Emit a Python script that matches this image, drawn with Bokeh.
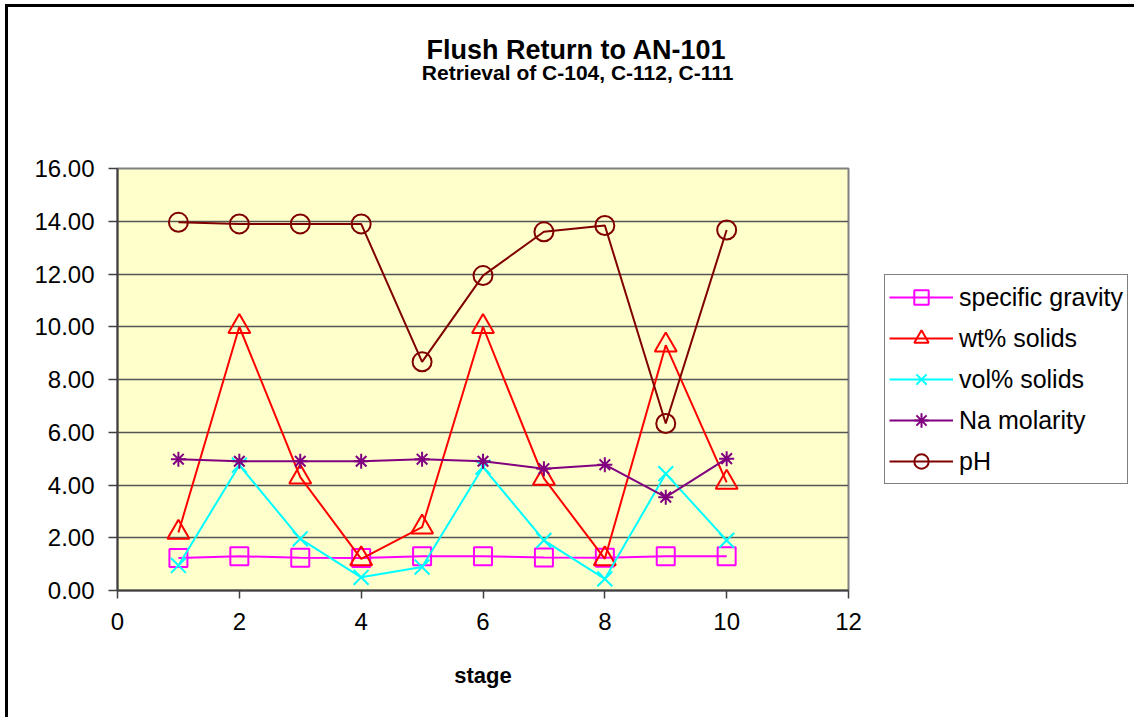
from bokeh.plotting import figure
from bokeh.layouts import row
from bokeh.models import (Range1d, FixedTicker, NumeralTickFormatter, Legend,
                          LegendItem, Title)
from bokeh.embed import file_html
from bokeh.resources import INLINE

# Flush return measurements per retrieval stage
stage = [1, 2, 3, 4, 5, 6, 7, 8, 9, 10]
specific_gravity = [1.23, 1.30, 1.24, 1.23, 1.30, 1.30, 1.25, 1.24, 1.30, 1.30]
wt_solids = [2.2, 10.0, 4.3, 1.2, 2.4, 10.0, 4.25, 1.2, 9.3, 4.1]
vol_solids = [0.95, 4.75, 1.96, 0.5, 0.89, 4.68, 1.9, 0.44, 4.43, 1.9]
na_molarity = [4.98, 4.9, 4.9, 4.9, 4.98, 4.9, 4.62, 4.77, 3.54, 5.0]
ph = [13.96, 13.9, 13.9, 13.9, 8.67, 11.94, 13.6, 13.84, 6.33, 13.67]

series_names = ["specific gravity", "wt% solids", "vol% solids", "Na molarity", "pH"]
series_values = [specific_gravity, wt_solids, vol_solids, na_molarity, ph]
series_colors = ["#FF00FF", "#FF0000", "#00FFFF", "#800080", "#800000"]
series_markers = ["square", "triangle", "x", "asterisk", "circle"]
marker_sizes = [18, 22, 21, 15, 19]

x_ticks = [0, 2, 4, 6, 8, 10, 12]
y_ticks = [0, 2, 4, 6, 8, 10, 12, 14, 16]

FONT = "Liberation Sans"
BORDERS = dict(min_border_top=161, min_border_bottom=127)

# ---- main chart -----------------------------------------------------------
p = figure(width=862, height=710, output_backend="svg", toolbar_location=None,
           x_range=Range1d(0, 12), y_range=Range1d(0, 16),
           min_border_left=109, min_border_right=22, **BORDERS)

p.background_fill_color = "#FFFFCC"
p.border_fill_color = "white"
p.outline_line_color = "#808080"
p.outline_line_width = 2

p.xgrid.visible = False
p.ygrid.grid_line_color = "#555555"
p.ygrid.grid_line_width = 1.5

p.xaxis.ticker = FixedTicker(ticks=x_ticks)
p.yaxis.ticker = FixedTicker(ticks=y_ticks)
p.yaxis.formatter = NumeralTickFormatter(format="0.00")
for ax in (p.xaxis, p.yaxis):
    ax.axis_line_color = "#404040"
    ax.axis_line_width = 2
    ax.major_tick_line_color = "#404040"
    ax.major_tick_line_width = 1.5
    ax.major_tick_in = 0
    ax.minor_tick_line_color = None
    ax.major_label_text_font = FONT
    ax.major_label_text_font_size = "24px"
    ax.major_label_text_color = "black"
p.xaxis.major_tick_out = 8
p.yaxis.major_tick_out = 9
p.xaxis.major_label_standoff = 14
p.yaxis.major_label_standoff = 14
p.xaxis.axis_label = "stage"
p.xaxis.axis_label_text_font = FONT
p.xaxis.axis_label_text_font_size = "22px"
p.xaxis.axis_label_text_font_style = "bold"
p.xaxis.axis_label_text_color = "black"
p.xaxis.axis_label_standoff = 30

for vals, color, marker, size in zip(series_values, series_colors,
                                     series_markers, marker_sizes):
    p.line(stage, vals, line_color=color, line_width=2)
    p.scatter(stage, vals, marker=marker, size=size, line_color=color,
              line_width=2, fill_color=None)

# heading block: a blank spacer lifts the two heading lines away from the frame
p.add_layout(Title(text=" ", text_font_size="1px", standoff=82), "above")
p.add_layout(Title(text="Retrieval of C-104, C-112, C-111", align="right",
                   offset=115, standoff=0, vertical_align="bottom",
                   text_font=FONT, text_font_size="21px",
                   text_font_style="bold", text_color="black"), "above")
p.add_layout(Title(text="Flush Return to AN-101", align="right",
                   offset=122, standoff=-13, vertical_align="bottom",
                   text_font=FONT, text_font_size="27px",
                   text_font_style="bold", text_color="black"), "above")

# ---- legend panel (series styles repeated; its view range shows no data) ----
lg = figure(width=264, height=710, output_backend="svg", toolbar_location=None,
            x_range=Range1d(-3, -2), y_range=Range1d(0, 16),
            x_axis_type=None, y_axis_type=None,
            min_border_left=14, min_border_right=0, **BORDERS)
lg.outline_line_color = None
lg.background_fill_color = "white"
lg.border_fill_color = "white"

items = []
for name, vals, color, marker in zip(series_names, series_values,
                                     series_colors, series_markers):
    ln = lg.line(stage, vals, line_color=color, line_width=2)
    sc = lg.scatter(stage, vals, marker=marker, line_color=color,
                    line_width=2, fill_color=None)
    items.append(LegendItem(label=name, renderers=[ln, sc]))

legend = Legend(items=items, location=(0, 106), orientation="vertical",
                label_text_font=FONT, label_text_font_size="25px",
                label_text_color="black", glyph_width=64, glyph_height=36,
                label_height=36, label_standoff=6, spacing=5, padding=4,
                margin=0, border_line_color="black", border_line_width=1,
                background_fill_color="white", background_fill_alpha=1.0)
lg.add_layout(legend, "center")

layout = row(p, lg)
layout.styles = {"border-left": "3px solid black", "border-top": "3px solid black",
                 "margin-left": "5px", "margin-top": "4px"}

open("out.html", "w").write(file_html(layout, INLINE))
